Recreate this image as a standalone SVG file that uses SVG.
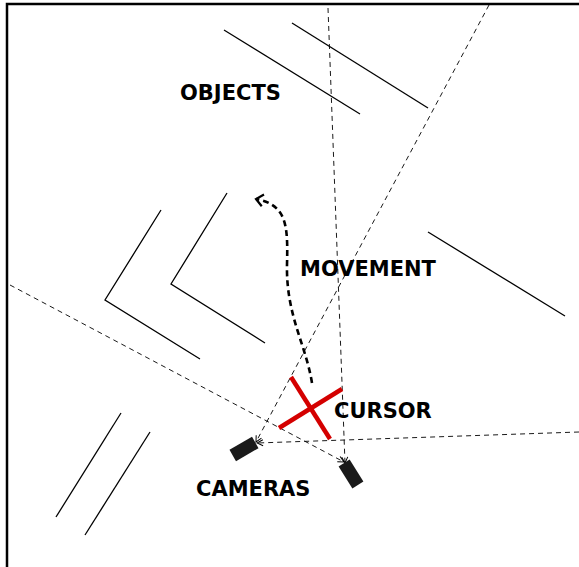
<svg xmlns="http://www.w3.org/2000/svg" width="579" height="567" viewBox="0 0 579 567">
<style>
.obj{stroke:#000;stroke-width:1.3;fill:none}
.ray{stroke:#000;stroke-width:0.9;stroke-dasharray:5,4;fill:none}
.lbl{font-family:"DejaVu Sans",sans-serif;font-weight:bold;font-size:21px;fill:#000}
.cam{fill:#1a1a1a}
.cur{stroke:#d40000;stroke-width:4.5;fill:none}
</style>
<defs>
<marker id="tip" markerWidth="8" markerHeight="8" refX="7" refY="4" orient="auto" markerUnits="userSpaceOnUse">
<path d="M1,1 L7,4 L1,7" fill="none" stroke="#000" stroke-width="1"/>
</marker>
<marker id="mv" markerWidth="14" markerHeight="14" refX="9" refY="7" orient="auto" markerUnits="userSpaceOnUse">
<path d="M2,1 L9,7 L2,13" fill="none" stroke="#000" stroke-width="2.2"/>
</marker>
</defs>
<rect width="579" height="567" fill="#fff"/>
<rect x="7" y="4" width="620" height="620" fill="none" stroke="#000" stroke-width="2.5"/>
<g id="objects">
<line class="obj" x1="224" y1="30" x2="360" y2="114"/>
<line class="obj" x1="292" y1="23" x2="428" y2="108"/>
<line class="obj" x1="428" y1="232" x2="565" y2="316"/>
<polyline class="obj" points="161,210 105,300 200,359"/>
<polyline class="obj" points="227,193 171,284 265,343"/>
<line class="obj" x1="121" y1="413" x2="56" y2="517"/>
<line class="obj" x1="150" y1="432" x2="85" y2="535"/>
</g>
<g id="connectors">
<line class="ray" x1="489" y1="5" x2="256" y2="442" marker-end="url(#tip)"/>
<line class="ray" x1="579" y1="432" x2="257" y2="443" marker-end="url(#tip)"/>
<line class="ray" x1="328" y1="8" x2="345" y2="463" marker-end="url(#tip)"/>
<line class="ray" x1="10" y1="285" x2="344" y2="462" marker-end="url(#tip)"/>
<path d="M312,383 C306,345 286,315 287,265 C288,225 287,205 256,199" fill="none" stroke="#000" stroke-width="2.6" stroke-dasharray="6,4" marker-end="url(#mv)"/>
</g>
<g id="cameras">
<rect class="cam" x="-13" y="-6.5" width="26" height="13" transform="translate(244,449) rotate(-30)"/>
<rect class="cam" x="-13" y="-6.5" width="26" height="13" transform="translate(351,474) rotate(58)"/>
</g>
<g id="cursor">
<line class="cur" x1="291" y1="377" x2="330" y2="439"/>
<line class="cur" x1="279" y1="428" x2="342" y2="389"/>
</g>
<text class="lbl" x="180" y="100">OBJECTS</text>
<text class="lbl" x="300" y="276">MOVEMENT</text>
<text class="lbl" x="334" y="418">CURSOR</text>
<text class="lbl" x="196" y="496">CAMERAS</text>
</svg>
